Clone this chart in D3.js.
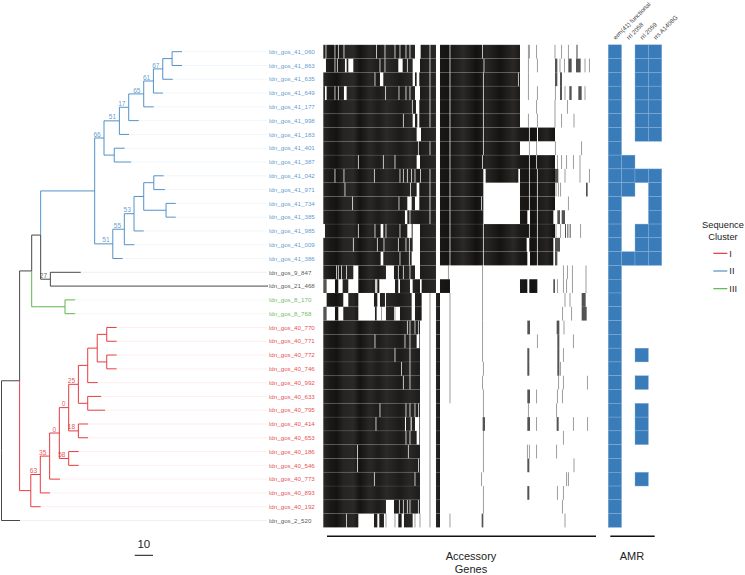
<!DOCTYPE html>
<html>
<head>
<meta charset="utf-8">
<script src="https://d3js.org/d3.v7.min.js"></script>
<style>
body { margin: 0; background: #fff; }
text { font-family: "Liberation Sans", sans-serif; }
</style>
</head>
<body>
<svg id="chart" width="745" height="575"></svg>
<script>
// id, parent, depth (in scale bar units), cluster, bootstrap support
var treeEdges = [
  ["root", "", 0, "none", ""],
  ["a", "root", 9.9, "none", ""],
  ["b", "a", 16.5, "none", ""],
  ["c", "b", 21.4, "none", ""],
  ["n1", "c", 50.9, "II", ""],
  ["n2", "n1", 56.0, "II", "66"],
  ["n3", "n2", 64.4, "II", "51"],
  ["n4", "n3", 69.5, "II", "17"],
  ["n5", "n4", 77.7, "II", "65"],
  ["n6", "n5", 83.0, "II", "61"],
  ["n7", "n6", 88.1, "II", "67"],
  ["n8", "n7", 93.2, "II", ""],
  ["ldn_gos_41_060", "n8", 98.6, "II", ""],
  ["ldn_gos_41_863", "n8", 98.6, "II", ""],
  ["ldn_gos_41_635", "n7", 93.6, "II", ""],
  ["ldn_gos_41_649", "n6", 88.2, "II", ""],
  ["ldn_gos_41_177", "n5", 83.2, "II", ""],
  ["ldn_gos_41_998", "n4", 75.0, "II", ""],
  ["ldn_gos_41_183", "n3", 69.7, "II", ""],
  ["n9", "n2", 61.6, "II", ""],
  ["ldn_gos_41_401", "n9", 67.3, "II", ""],
  ["ldn_gos_41_387", "n9", 70.8, "II", ""],
  ["n10", "n1", 60.8, "II", "51"],
  ["n11", "n10", 67.1, "II", "55"],
  ["n12", "n11", 72.4, "II", "53"],
  ["n13", "n12", 77.7, "II", ""],
  ["n14", "n13", 83.2, "II", ""],
  ["ldn_gos_41_042", "n14", 88.6, "II", ""],
  ["ldn_gos_41_971", "n14", 89.3, "II", ""],
  ["n15", "n13", 89.9, "II", ""],
  ["ldn_gos_41_734", "n15", 95.2, "II", ""],
  ["ldn_gos_41_385", "n15", 95.2, "II", ""],
  ["ldn_gos_41_985", "n12", 77.7, "II", ""],
  ["ldn_gos_41_009", "n11", 72.6, "II", ""],
  ["ldn_gos_41_386", "n10", 66.2, "II", ""],
  ["k1", "c", 26.7, "none", "27"],
  ["ldn_gos_9_847", "k1", 43.3, "none", ""],
  ["ldn_gos_21_468", "k1", 145.6, "none", ""],
  ["g1", "b", 34.7, "III", ""],
  ["ldn_gos_8_170", "g1", 40.2, "III", ""],
  ["ldn_gos_8_768", "g1", 40.2, "III", ""],
  ["r1", "a", 16.0, "I", ""],
  ["r2", "r1", 21.2, "I", "63"],
  ["r3", "r2", 26.3, "I", "35"],
  ["r4", "r3", 31.6, "I", "0"],
  ["r5", "r4", 36.7, "I", "0"],
  ["r6", "r5", 42.0, "I", "25"],
  ["r7", "r6", 47.1, "I", ""],
  ["r8", "r7", 52.3, "I", ""],
  ["r9", "r8", 57.5, "I", ""],
  ["ldn_gos_40_770", "r9", 62.9, "I", ""],
  ["ldn_gos_40_771", "r9", 62.9, "I", ""],
  ["r10", "r8", 57.5, "I", ""],
  ["ldn_gos_40_772", "r10", 62.9, "I", ""],
  ["ldn_gos_40_746", "r10", 62.9, "I", ""],
  ["ldn_gos_40_992", "r7", 52.6, "I", ""],
  ["r11", "r6", 47.1, "I", ""],
  ["ldn_gos_40_633", "r11", 54.4, "I", ""],
  ["ldn_gos_40_795", "r11", 56.6, "I", ""],
  ["r12", "r5", 42.0, "I", "18"],
  ["ldn_gos_40_414", "r12", 47.3, "I", ""],
  ["ldn_gos_40_653", "r12", 47.3, "I", ""],
  ["r13", "r4", 36.7, "I", "58"],
  ["ldn_gos_40_186", "r13", 42.2, "I", ""],
  ["ldn_gos_40_546", "r13", 42.2, "I", ""],
  ["ldn_gos_40_773", "r3", 32.0, "I", ""],
  ["ldn_gos_40_893", "r2", 26.5, "I", ""],
  ["ldn_gos_40_192", "r1", 21.4, "I", ""],
  ["ldn_gos_2_520", "root", 10.1, "none", ""]
];

var clusterNames = ["I", "II", "III"];
var clusterColors = ["#e3262b", "#4086c4", "#4daf3a"];

// accessory genes: present runs per row, by gene column
var accessoryRuns = [
  [[10,285],[302,348],[360,600]],
  [[10,278],[300,348],[360,600]],
  [[10,278],[285,290],[298,348],[360,600]],
  [[10,285],[300,348],[360,600]],
  [[10,288],[298,348],[360,600]],
  [[10,292],[298,348],[360,600]],
  [[10,290],[303,348],[360,705]],
  [[10,348],[360,600]],
  [[10,348],[360,705]],
  [[10,348],[360,490],[497,595],[600,705]],
  [[10,348],[360,490],[600,705]],
  [[10,348],[360,490],[600,705]],
  [[10,348],[360,490],[600,622],[630,700]],
  [[10,278],[300,348],[360,705]],
  [[10,278],[300,348],[360,620],[628,700]],
  [[10,282],[300,348],[360,622],[630,700]],
  [[10,100],[115,198],[222,348]],
  [[45,55],[68,85],[115,165],[172,178],[225,235],[240,270],[278,300],[305,348],[360,390],[600,622],[628,652]],
  [[20,70],[85,115],[162,172],[180,195],[198,275],[285,305],[348,360]],
  [[45,55],[70,115],[165,170],[198,222],[240,275],[285,305],[348,360]],
  [[10,300],[348,360]], [[10,300],[348,360]], [[10,300],[348,360]], [[10,300],[348,360]],
  [[10,300],[348,360]], [[10,300],[348,360]], [[10,300],[348,360]], [[10,300],[348,360]],
  [[10,300],[348,360]], [[10,300],[348,360]], [[10,300],[348,360]], [[10,300],[348,360]],
  [[10,300],[348,360]],
  [[10,198],[222,300],[348,360]],
  [[10,115],[162,172],[178,192],[235,245],[252,278],[348,360]]
];

// single absent genes (number) or absent stretches (pair) inside those runs
var accessoryGaps = [
  [18,45,55,72,170,195,225,240,258,270,330,390,488],
  [[10,18],45,52,[75,80],[85,100],180,195,[235,248],262,330,390,492],
  [165,[180,190],330,390,490,595],
  [[15,20],45,55,[72,80],197,237,258,270,330,390,490],
  [277,330,390,490],
  [250,[278,285],330,390,490],
  [390,490,628,[651,654]],
  [295,330,390,490],
  [115,190,225,[290,300],390,488,628,650],
  [45,72,163,240,250,262,275,285,302,330,390,628,652],
  [75,272,[290,298],330,390,628,652],
  [98,237,[262,275],[285,298],330,390,485,628,652],
  [[255,262],270,330,390,652],
  [[10,15],115,165,[182,190],198,240,[262,275],390,490,628,652],
  [100,172,192,235,258,268,390,490,652],
  [[182,190],240,268,[275,282],390,490,652],
  [50,55,65,80,235,250,270,[285,300]],
  [],
  [],
  [],
  [262,270,285,295],
  [165,255,270,[290,298]],
  [225,270],
  [245,270],
  [250,270],
  [],
  [180,258,270,285,296],
  [168,[255,258],[272,275],[285,298]],
  [258,270,[290,298]],
  [113,265],
  [113,296],
  [163,285],
  [],
  [238,250,262,270,295],
  [80]
];

// scattered extra genes, outside the runs
var accessoryExtra = [
  [625,628,650,705,725,745,770,772],
  [625,652,[705,712],720,733,[745,755],[768,782],795,808],
  [625,[705,712],[720,726]],
  [625,652,706,[720,726],735,[748,755],[775,785],795],
  [650,705,742],
  [625,652,705,725,762],
  [],
  [628,650,706,785],
  [712,725,740,760,780],
  [[705,715],735,780,808],
  [708,715,722,[798,803]],
  [745],
  [[712,720],[725,735]],
  [708,722,[735,738],[742,745],[749,752],782],
  [[705,720]],
  [[705,712]],
  [385,488,730,742,757,798],
  [[10,20],168,488,[700,705],712,730,740,757,798],
  [330,390,488,735,750,[785,797]],
  [[10,20],185,225,330,390,488,728,755,[785,800]],
  [330,390,488,[622,630],[710,718],732],
  [330,390,488,652,[712,718],760],
  [330,390,488,[622,628],[712,718],730],
  [330,390,490,[622,628],[712,718],721],
  [330,390,488,716,730,802],
  [330,390,490,[622,630],650,712,727],
  [330,490,625,710],
  [330,[488,495],[622,630],650,[710,716],760,803],
  [330,490,730],
  [330,490,622,628,650,710],
  [330,490,[622,628],762],
  [330,485,740,745],
  [330,490,[622,628],712,730],
  [330,490,727],
  [198,225,285,300,330,390,[485,490],735]
];

// dark banding across the gene columns
var bandColumns = [10,30,50,70,100,120,150,175,200,240,270,300,348,360,385,430,470,500,540,580,600,640,680,705];
var bandColors = ["#2a2825","#1c1a18","#141311","#262422","#2b2927","#141311","#2a2826","#1e1c1a","#2b2927","#1d1b19","#2a2826","#1e1c1a","#2a2826","#1a1816","#161412","#2b2927","#121110","#282624","#141311","#2a2826","#1c1a18","#141311","#262422","#141311"];

var amrGenes = ["erm(41) functional", "rrl 2058", "rrl 2059", "rrs A1408G"];
var amrRows = [
  d3.range(35),
  [8, 9, 10, 15],
  [0, 1, 2, 3, 4, 5, 6, 9, 13, 14, 15, 22, 24, 26, 27, 28, 31],
  [0, 1, 2, 3, 4, 5, 6, 9, 10, 11, 12, 13, 14, 15]
];

var scaleBarUnits = 10;

var svg = d3.select("#chart");

var colorOf = d3.scaleOrdinal().domain(clusterNames).range(clusterColors).unknown("#333");

var root = d3.stratify()
  .id(function(d) { return d[0]; })
  .parentId(function(d) { return d[1]; })(treeEdges);

var tips = root.leaves();
var tipNames = tips.map(function(d) { return d.id; });

var y = d3.scaleBand().domain(d3.range(tipNames.length)).range([44.8, 527.4]);
var x = d3.scaleLinear().domain([0, 145.6]).range([1.5, 268]);

tips.forEach(function(d, i) { d.py = y(i) + y.bandwidth() / 2; });
root.eachAfter(function(d) {
  if (d.children) d.py = (d.children[0].py + d.children[d.children.length - 1].py) / 2;
  d.px = x(d.data[2]);
});

// leader lines
svg.append("g").selectAll("line").data(tips).enter().append("line")
  .attr("x1", function(d) { return d.px; })
  .attr("x2", 267)
  .attr("y1", function(d) { return d.py; })
  .attr("y2", function(d) { return d.py; })
  .attr("stroke", function(d) { return colorOf(d.data[3]); })
  .attr("stroke-width", 0.6)
  .attr("stroke-opacity", 0.13);

// branches
svg.append("g").selectAll("path").data(root.descendants().slice(1)).enter().append("path")
  .attr("fill", "none")
  .attr("stroke", function(d) { return colorOf(d.data[3]); })
  .attr("stroke-width", 0.9)
  .attr("d", function(d) {
    return "M" + d.parent.px + "," + d.parent.py + "V" + d.py + "H" + d.px;
  });

// support labels
svg.append("g").selectAll("text")
  .data(root.descendants().filter(function(d) { return d.data[4] !== ""; }))
  .enter().append("text")
  .attr("x", function(d) { return d.px - 3.2; })
  .attr("y", function(d) { return d.py - 1.4; })
  .attr("text-anchor", "end")
  .attr("font-size", 6.6)
  .attr("fill", function(d) { return colorOf(d.data[3]); })
  .attr("fill-opacity", 0.8)
  .text(function(d) { return d.data[4]; });

// tip labels
svg.append("g").selectAll("text").data(tips).enter().append("text")
  .attr("x", 269)
  .attr("y", function(d) { return d.py + 2.2; })
  .attr("font-size", 6.2)
  .attr("fill", function(d) { return colorOf(d.data[3]); })
  .attr("fill-opacity", 0.85)
  .text(function(d) { return d.id; });

// accessory matrix
var gene = d3.scaleLinear().domain([10, 810]).range([323.3, 590]);

var band = svg.append("defs").append("linearGradient")
  .attr("id", "bands")
  .attr("gradientUnits", "userSpaceOnUse")
  .attr("x1", gene(10)).attr("x2", gene(705))
  .attr("y1", 0).attr("y2", 0);
band.selectAll("stop").data(bandColumns).enter().append("stop")
  .attr("offset", function(d) { return (d - 10) / 695; })
  .attr("stop-color", function(d, i) { return bandColors[i]; });

// a lone gene is one thin column, a pair is a stretch of columns
function span(g) {
  return typeof g === "number" ? [g - 1.1, g + 1.1] : g;
}

function subtract(runs, gaps) {
  var out = runs.map(function(r) { return r.slice(); });
  gaps.map(span).forEach(function(g) {
    var next = [];
    out.forEach(function(r) {
      if (g[1] <= r[0] || g[0] >= r[1]) { next.push(r); return; }
      if (g[0] > r[0]) next.push([r[0], g[0]]);
      if (g[1] < r[1]) next.push([g[1], r[1]]);
    });
    out = next;
  });
  return out;
}

function rowMarks(i) {
  var solid = subtract(accessoryRuns[i], accessoryGaps[i]).map(function(r) {
    return { from: r[0], to: r[1], opacity: 1 };
  });
  var extra = accessoryExtra[i].map(function(g) {
    var s = span(g);
    return { from: s[0], to: s[1], opacity: typeof g === "number" ? 0.6 : 0.78 };
  });
  return solid.concat(extra);
}

var geneRows = svg.append("g").selectAll("g").data(tipNames).enter().append("g")
  .attr("transform", function(d, i) { return "translate(0," + y(i) + ")"; });

geneRows.selectAll("rect")
  .data(function(d, i) { return rowMarks(i); })
  .enter().append("rect")
  .attr("x", function(d) { return gene(d.from); })
  .attr("width", function(d) { return gene(d.to) - gene(d.from); })
  .attr("y", 0)
  .attr("height", y.bandwidth())
  .attr("fill", function(d) { return d.opacity < 1 ? "#222" : "url(#bands)"; })
  .attr("fill-opacity", function(d) { return d.opacity; });

// faint row rules over the matrix
svg.append("g").selectAll("line").data(d3.range(tipNames.length)).enter().append("line")
  .attr("x1", gene(10))
  .attr("x2", gene(705))
  .attr("y1", function(d) { return y(d); })
  .attr("y2", function(d) { return y(d); })
  .attr("stroke", "#fff")
  .attr("stroke-width", 0.4)
  .attr("stroke-opacity", 0.22);

// AMR columns
var amrX = d3.scaleBand().domain(amrGenes).range([608.2, 661.8]);

var amrCols = svg.append("g").selectAll("g").data(amrGenes).enter().append("g");
amrCols.selectAll("rect")
  .data(function(d, i) { return amrRows[i].map(function(r) { return { gene: d, row: r }; }); })
  .enter().append("rect")
  .attr("x", function(d) { return amrX(d.gene); })
  .attr("y", function(d) { return y(d.row); })
  .attr("width", amrX.bandwidth())
  .attr("height", y.bandwidth())
  .attr("fill", "#3a7cba")
  .attr("stroke", "#8db4da")
  .attr("stroke-width", 0.4);

svg.append("g").selectAll("text").data(amrGenes).enter().append("text")
  .attr("transform", function(d) {
    return "translate(" + (amrX(d) + 7.5) + ",40) rotate(-45)";
  })
  .attr("font-size", 6.2)
  .attr("fill", "#444")
  .text(function(d) { return d; });

// brackets under the panels
svg.append("line").attr("x1", 327).attr("x2", 596).attr("y1", 536.3).attr("y2", 536.3)
  .attr("stroke", "#111").attr("stroke-width", 1.4);
svg.append("line").attr("x1", 610.3).attr("x2", 654.7).attr("y1", 536.3).attr("y2", 536.3)
  .attr("stroke", "#111").attr("stroke-width", 1.4);

svg.append("text").attr("x", 471).attr("y", 559.5).attr("text-anchor", "middle")
  .attr("font-size", 11).attr("fill", "#222").text("Accessory");
svg.append("text").attr("x", 471).attr("y", 573).attr("text-anchor", "middle")
  .attr("font-size", 11).attr("fill", "#222").text("Genes");
svg.append("text").attr("x", 632).attr("y", 560).attr("text-anchor", "middle")
  .attr("font-size", 11).attr("fill", "#222").text("AMR");

// scale bar
var barStart = 134.7;
svg.append("line")
  .attr("x1", barStart)
  .attr("x2", barStart + x(scaleBarUnits) - x(0))
  .attr("y1", 555.3).attr("y2", 555.3)
  .attr("stroke", "#111").attr("stroke-width", 1);
svg.append("text").attr("x", 143.8).attr("y", 548).attr("text-anchor", "middle")
  .attr("font-size", 11.5).attr("fill", "#222").text(scaleBarUnits);

// legend
svg.append("text").attr("x", 723).attr("y", 227.5).attr("text-anchor", "middle")
  .attr("font-size", 9.3).attr("fill", "#222").text("Sequence");
svg.append("text").attr("x", 723).attr("y", 239.5).attr("text-anchor", "middle")
  .attr("font-size", 9.3).attr("fill", "#222").text("Cluster");

var legendY = d3.scalePoint().domain(clusterNames).range([253.3, 288.7]);
var legend = svg.append("g").selectAll("g").data(clusterNames).enter().append("g")
  .attr("transform", function(d) { return "translate(0," + legendY(d) + ")"; });
legend.append("line")
  .attr("x1", 713.3).attr("x2", 727.3)
  .attr("stroke", function(d) { return colorOf(d); })
  .attr("stroke-width", 1.1);
legend.append("text")
  .attr("x", 729.3).attr("y", 3.2)
  .attr("font-size", 9.3).attr("fill", "#222")
  .text(function(d) { return d; });
</script>
</body>
</html>
